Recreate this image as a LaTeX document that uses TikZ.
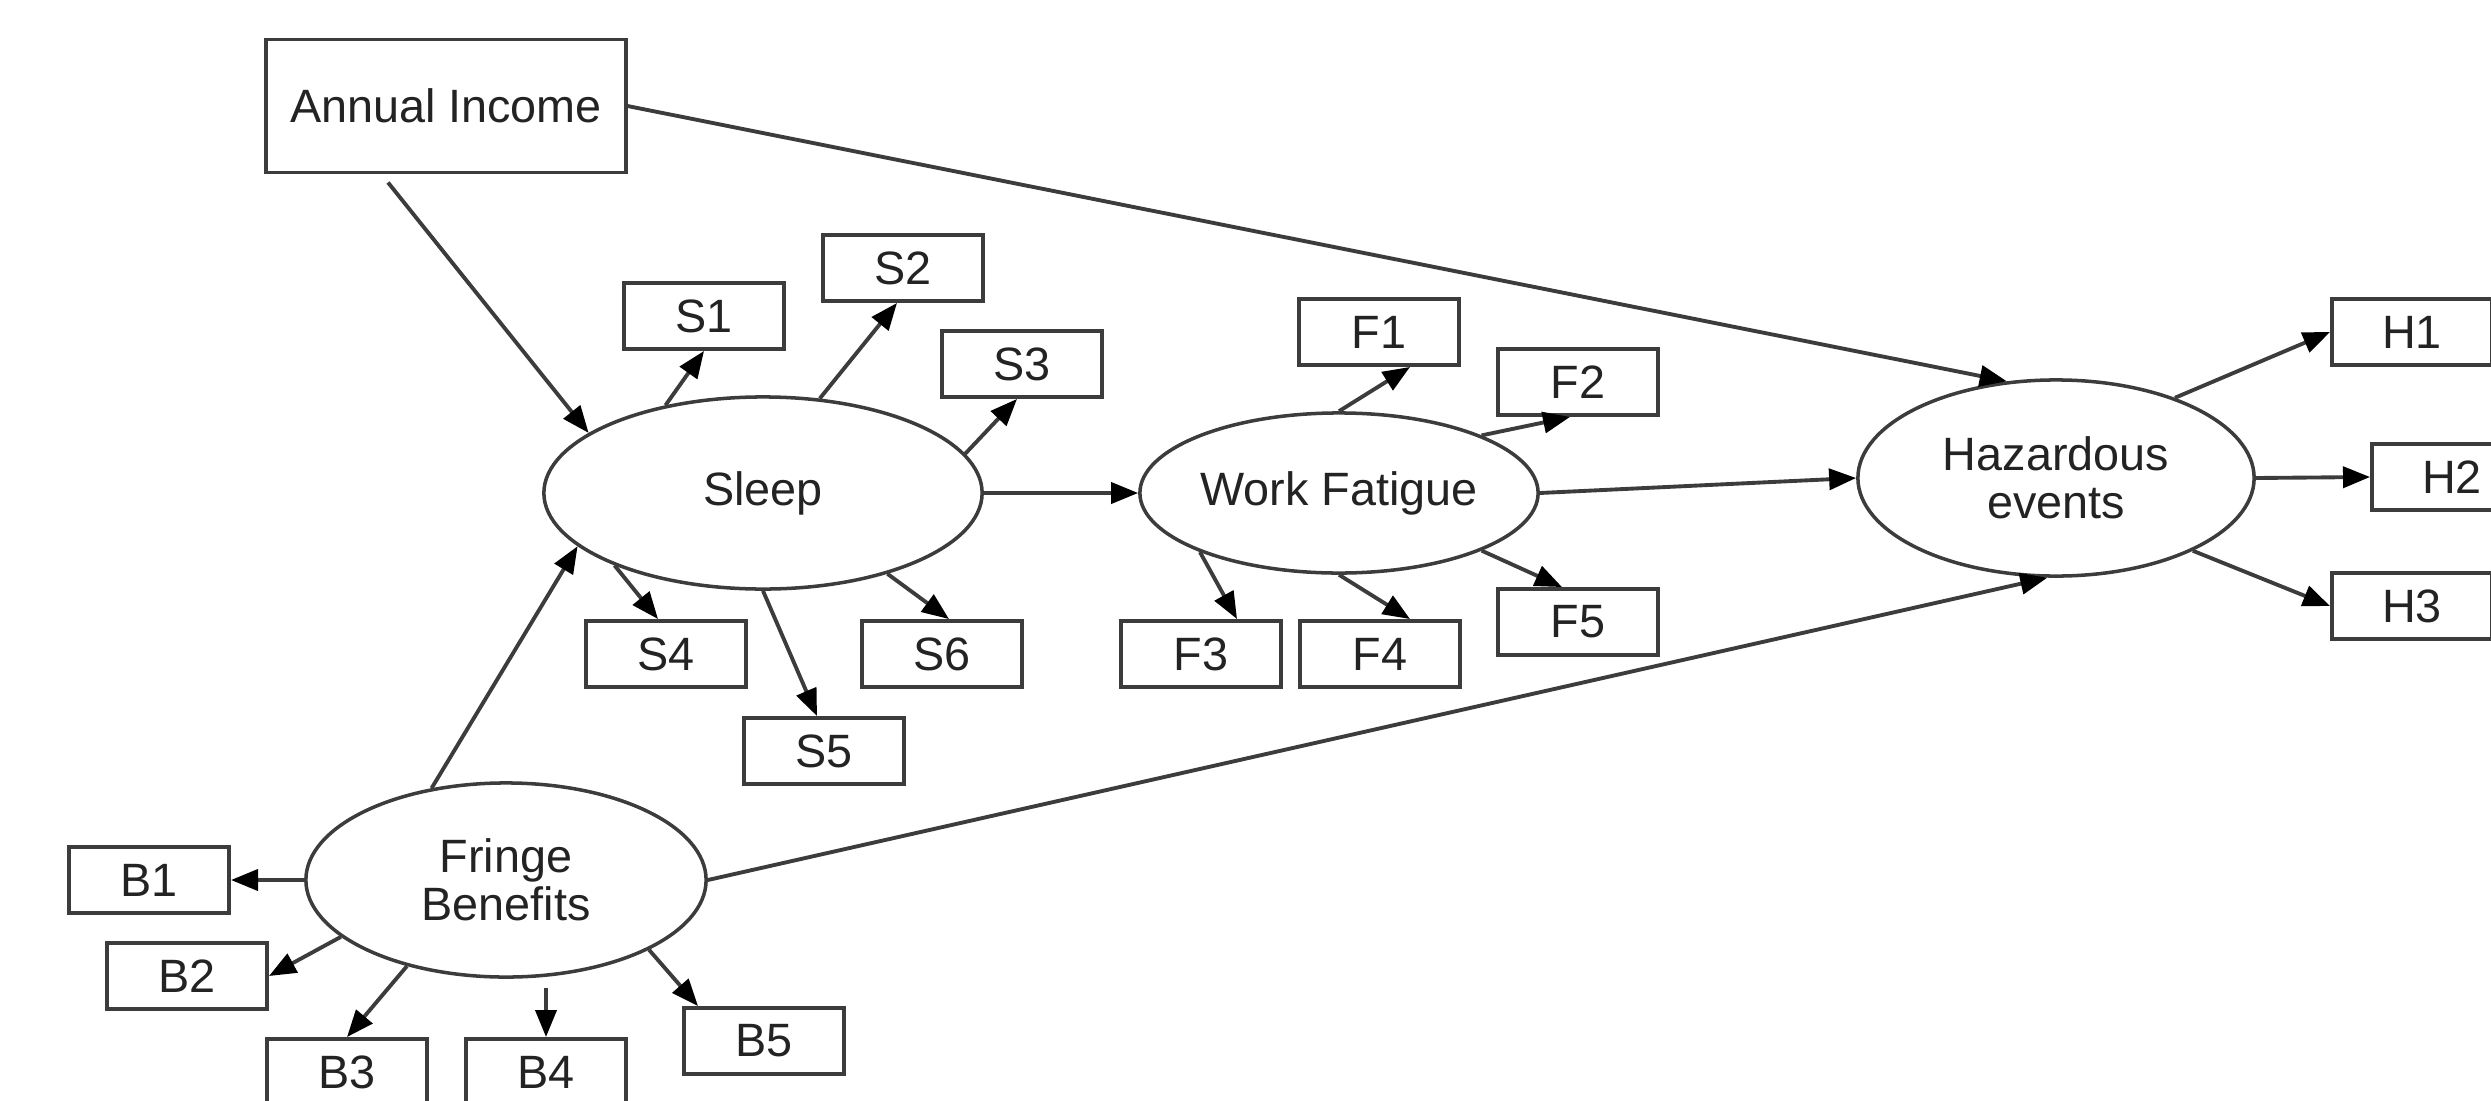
\documentclass[tikz,border=0pt]{standalone}
\usepackage{fontspec}
\setmainfont{Liberation Sans}
\usetikzlibrary{shapes.geometric,arrows.meta,calc}
\definecolor{lc}{RGB}{60,60,60}
\definecolor{tc}{RGB}{35,35,35}
\newcommand{\lblfont}{\fontsize{13.3pt}{13.6pt}\selectfont}
\tikzset{
  ind/.style={draw=lc, line width=1.1pt, minimum width=1.6cm, minimum height=0.66cm, inner sep=0pt, font=\lblfont, text=tc},
  lat/.style={draw=lc, line width=1pt, ellipse, inner sep=0pt, align=center, font=\lblfont, text=tc},
  arr/.style={draw=lc, line width=1.1pt, -{Triangle[length=0.27cm,width=0.21cm,fill=black,color=black]}},
}
\begin{document}
\begin{tikzpicture}[x=0.01cm, y=-0.01cm]
\useasboundingbox (0,0) rectangle (2491,1100);
% latent variables
\node[lat, minimum width=4.38cm, minimum height=1.92cm] (Sleep) at (763,493) {Sleep};
\node[lat, minimum width=3.98cm, minimum height=1.60cm] (WF) at (1339,493) {Work Fatigue};
\node[lat, minimum width=3.96cm, minimum height=1.96cm] (HZ) at (2056,478) {Hazardous\\events};
\node[lat, minimum width=4.00cm, minimum height=1.94cm] (FB) at (506,880) {Fringe\\Benefits};
% observed
\node[ind, minimum width=3.59cm, minimum height=1.33cm] (AI) at (446,106) {Annual Income};
\node[ind] (S1) at (704,316) {S1};
\node[ind] (S2) at (903,268) {S2};
\node[ind] (S3) at (1022,364) {S3};
\node[ind] (S4) at (666,654) {S4};
\node[ind] (S6) at (942,654) {S6};
\node[ind] (S5) at (824,751) {S5};
\node[ind] (F1) at (1379,332) {F1};
\node[ind] (F2) at (1578,382) {F2};
\node[ind] (F3) at (1201,654) {F3};
\node[ind] (F4) at (1380,654) {F4};
\node[ind] (F5) at (1578,622) {F5};
\node[ind] (H1) at (2412,332) {H1};
\node[ind] (H2) at (2452,477) {H2};
\node[ind] (H3) at (2412,606) {H3};
\node[ind] (B1) at (149,880) {B1};
\node[ind] (B2) at (187,976) {B2};
\node[ind] (B3) at (347,1072) {B3};
\node[ind] (B4) at (546,1072) {B4};
\node[ind] (B5) at (764,1041) {B5};
% structural paths
\draw[arr] ($(AI.south)+(-58,8)$) -- (Sleep.161);
\draw[arr] (AI.east) -- (HZ.117);
\draw[arr] (Sleep.east) -- (WF.west);
\draw[arr] (WF.east) -- (HZ.west);
\draw[arr] (FB.129) -- (Sleep.196);
\draw[arr] (FB.east) -- (HZ.265);
% sleep indicators
\draw[arr] (Sleep.138) -- (S1.south);
\draw[arr] (Sleep.59) -- ($(S2.south)+(-6,0)$);
\draw[arr] (Sleep.11) -- ($(S3.south)+(-5,0)$);
\draw[arr] (Sleep.206) -- ($(S4.north)+(-8,0)$);
\draw[arr] (Sleep.south) -- ($(S5.north)+(-7,0)$);
\draw[arr] (Sleep.327) -- ($(S6.north)+(7,0)$);
% fatigue indicators
\draw[arr] (WF.north) -- ($(F1.south)+(31,0)$);
\draw[arr] (WF.22) -- ($(F2.south)+(-8,0)$);
\draw[arr] (WF.203) -- ($(F3.north)+(36,0)$);
\draw[arr] (WF.south) -- ($(F4.north)+(30,0)$);
\draw[arr] (WF.-22) -- ($(F5.north)+(-16,0)$);
% hazard indicators
\draw[arr] (HZ.34) -- (H1.west);
\draw[arr] (HZ.east) -- (H2.west);
\draw[arr] (HZ.-28) -- (H3.west);
% fringe indicators
\draw[arr] (FB.west) -- (B1.east);
\draw[arr] (FB.199) -- (B2.east);
\draw[arr] (FB.221) -- (B3.north);
\draw[arr] ($(FB.south -| B4.north)+(0,9)$) -- (B4.north);
\draw[arr] (FB.334) -- ($(B5.north west)+(16,0)$);
\end{tikzpicture}
\end{document}
